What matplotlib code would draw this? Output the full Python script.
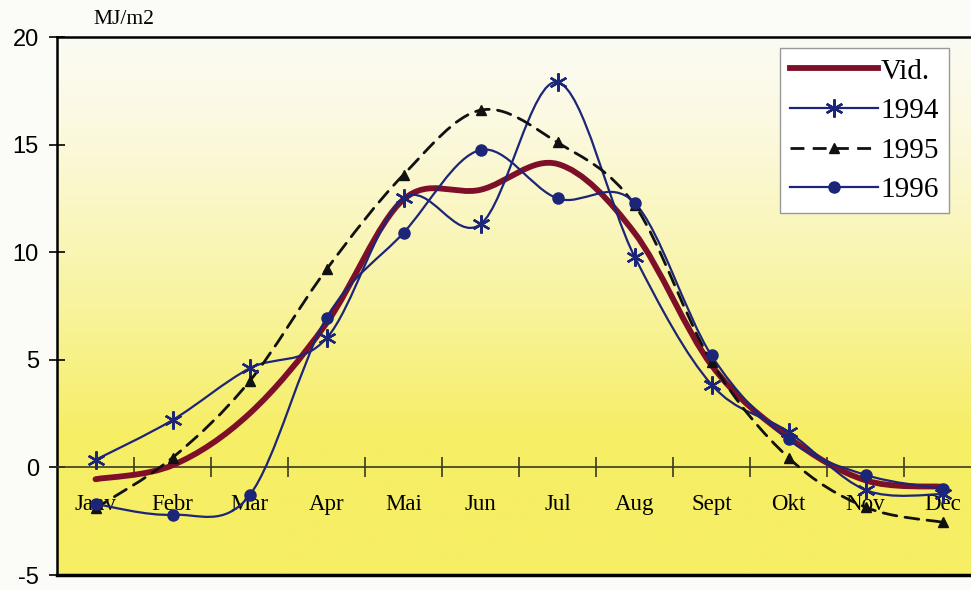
import numpy as np
import matplotlib
matplotlib.use("Agg")
import matplotlib.pyplot as plt
from matplotlib.path import Path
from matplotlib.patches import PathPatch
from matplotlib.lines import Line2D

months = ["Janv", "Febr", "Mar", "Apr", "Mai", "Jun", "Jul", "Aug", "Sept", "Okt", "Nov", "Dec"]
vid   = [-0.55, 0.1, 2.5, 6.7, 12.45, 12.9, 14.1, 10.9, 4.75, 1.4, -0.6, -0.9]
y1994 = [0.35, 2.2, 4.6, 6.0, 12.5, 11.3, 17.9, 9.8, 3.85, 1.65, -1.05, -1.25]
y1995 = [-1.9, 0.45, 4.0, 9.2, 13.6, 16.6, 15.1, 12.2, 4.9, 0.45, -1.85, -2.55]
y1996 = [-1.7, -2.2, -1.3, 6.95, 10.9, 14.75, 12.5, 12.3, 5.2, 1.3, -0.35, -1.0]
yticks = [-5, 0, 5, 10, 15, 20]
unit_label = "MJ/m2"

serif = ["Liberation Serif", "DejaVu Serif"]
sans = ["Liberation Sans", "DejaVu Sans"]

fig = plt.figure(figsize=(9.71, 5.90), dpi=100)
fig.patch.set_facecolor("#fbfbf8")
ax = fig.add_axes([57/971, 15/590, 924/971, 538/590])
ax.set_xlim(-0.5, 11.5)
ax.set_ylim(-5, 20)

# gradient background (light at top, yellow at bottom)
grad = np.linspace(0, 1, 256)[:, None]
top = np.array([252, 251, 243]) / 255
bot = np.array([246, 238, 100]) / 255
t = np.clip(grad * 1.35, 0, 1) ** 1.3
img = top[None, None, :] * (1 - t[..., None]) + bot[None, None, :] * t[..., None]
img = np.repeat(img, 2, axis=1)
ax.imshow(img, extent=(0, 1, 0, 1), transform=ax.transAxes, aspect="auto",
          origin="upper", zorder=0)


def smooth_path(xs, ys):
    pts = np.column_stack([xs, ys]).astype(float)
    n = len(pts)
    verts = [pts[0]]
    codes = [Path.MOVETO]
    for i in range(n - 1):
        p0 = pts[i - 1] if i > 0 else pts[i]
        p1 = pts[i]
        p2 = pts[i + 1]
        p3 = pts[i + 2] if i + 2 < n else pts[i + 1]
        c1 = p1 + (p2 - p0) / 6.0
        c2 = p2 - (p3 - p1) / 6.0
        verts += [c1, c2, p2]
        codes += [Path.CURVE4] * 3
    return Path(verts, codes)


x = np.arange(len(months))

styles = [
    ("Vid.", vid, dict(color="#7d1028", lw=4.2, ls="-"), None),
    ("1994", y1994, dict(color="#1c2578", lw=1.6, ls="-"), dict(marker=(6, 2, 0), ms=13, mew=1.7, color="#1c2578")),
    ("1995", y1995, dict(color="#111111", lw=2.0, ls=(0, (5, 3))), dict(marker="^", ms=7, color="#111111")),
    ("1996", y1996, dict(color="#1c2578", lw=1.6, ls="-"), dict(marker="o", ms=8, color="#1c2578")),
]

handles = []
for z, (name, ys, ls, mk) in enumerate(styles):
    patch = PathPatch(smooth_path(x, ys), facecolor="none", edgecolor=ls["color"],
                      lw=ls["lw"], linestyle=ls["ls"], zorder=3 + z, capstyle="round")
    ax.add_patch(patch)
    if mk is not None:
        ax.plot(x, ys, linestyle="none", marker=mk["marker"], ms=mk["ms"],
                color=mk["color"], mec=mk["color"], mew=mk.get("mew", 1), zorder=8)
    handles.append(Line2D([], [], color=ls["color"], lw=ls["lw"],
                          linestyle=ls["ls"],
                          marker=mk["marker"] if mk else None,
                          ms=(mk["ms"] if mk else 0), mew=(mk.get("mew", 1) if mk else 0),
                          mfc=(mk["color"] if mk else None), mec=(mk["color"] if mk else None),
                          label=name))

# axes styling
ax.spines["bottom"].set_position(("data", 0))
ax.spines["bottom"].set_color("#3a3a20")
ax.spines["bottom"].set_linewidth(1.2)
ax.spines["right"].set_visible(False)
ax.spines["left"].set_linewidth(1.8)
ax.spines["top"].set_linewidth(1.8)
ax.axhline(-5, color="black", lw=2.5, zorder=10, clip_on=False)

ax.set_xticks(x)
ax.set_xticklabels(months, fontfamily=serif, fontsize=16.5)
ax.set_xticks(np.arange(0.5, 11.5, 1), minor=True)
ax.tick_params(axis="x", which="major", length=0, pad=19)
ax.tick_params(axis="x", which="minor", direction="inout", length=14, width=1.2, color="#3a3a20")
ax.set_yticks(yticks)
ax.set_yticklabels([str(v) for v in yticks], fontfamily=sans, fontsize=17)
ax.tick_params(axis="y", direction="inout", length=12, width=1.2, pad=7)

fig.text(124/971, 1 - 20/590, unit_label, ha="center", va="center",
         fontfamily=serif, fontsize=15.5)

leg = ax.legend(handles=handles, loc="upper left", bbox_to_anchor=(780/971, 1 - 48/590),
                bbox_transform=fig.transFigure, prop={"family": serif, "size": 21},
                frameon=True, fancybox=False, handlelength=3.0, handletextpad=0.1,
                labelspacing=0.45, borderpad=0.35, borderaxespad=0)
leg.get_frame().set_edgecolor("#999999")
leg.get_frame().set_facecolor("white")
leg.get_frame().set_alpha(1)
leg.set_zorder(20)

fig.savefig("out.png", dpi=100, facecolor=fig.get_facecolor())
